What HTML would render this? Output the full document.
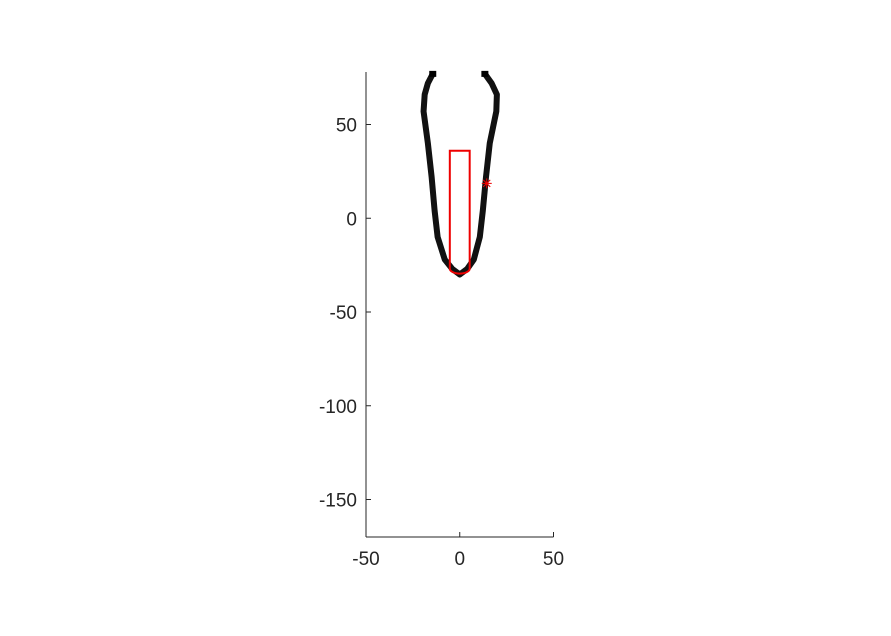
<!DOCTYPE html>
<html><head><meta charset="utf-8"><style>
body{margin:0;background:#fff;}
svg text{font-family:"Liberation Sans","DejaVu Sans",sans-serif;font-size:19px;fill:#262626;}
</style></head><body>
<svg id="chart" width="891" height="631">
<g id="axes"></g>
<g id="plot"></g>
</svg>
<script>
const xTicks=[-50,0,50];
const yTicks=[-150,-100,-50,0,50];
const leftY=[77,72,66,57,40,22,4,-10,-22,-27,-30];
const leftX=[-14.4,-17,-18.7,-19.3,-17,-15,-13.4,-11.8,-8,-4,0];
const rightY=[-30,-27,-22,-10,4,22,40,57,66,72,77];
const rightX=[0,4,7.5,10.7,12.3,14,16,19.5,19.8,17,13.4];
const rectX=[-5.3,5.3];
const rectTop=36;
const rectBottom=-29;
const starPt=[14.4,18.6];
const xMin=-50,xMax=50,yMin=-170,yMax=78;
const L=366,R=553.5,B=537,T=72;
const sx=v=>L+(v-xMin)/(xMax-xMin)*(R-L);
const sy=v=>B-(v-yMin)/(yMax-yMin)*(B-T);
const NS="http://www.w3.org/2000/svg";
function mk(p,t,a){const e=document.createElementNS(NS,t);for(const k in a)e.setAttribute(k,a[k]);p.appendChild(e);return e;}
const ax=document.getElementById('axes'),pl=document.getElementById('plot');
let e=mk(ax,'line',{x1:L,y1:B,x2:R,y2:B,stroke:'#262626','stroke-width':1});

e=mk(ax,'line',{x1:L,y1:B,x2:L,y2:T,stroke:'#262626','stroke-width':1});

xTicks.forEach(v=>{
 let t=mk(ax,'line',{x1:sx(v),y1:B,x2:sx(v),y2:B-5,stroke:'#262626'});
 
 let tx=mk(ax,'text',{x:sx(v),y:B+28,'text-anchor':'middle'});tx.textContent=v;
 
});
yTicks.forEach(v=>{
 let t=mk(ax,'line',{x1:L,y1:sy(v),x2:L+5,y2:sy(v),stroke:'#262626'});
 
 let tx=mk(ax,'text',{x:L-9,y:sy(v)+7,'text-anchor':'end'});tx.textContent=v;
 
});
const pts=[];leftX.forEach((x,i)=>pts.push([x,leftY[i]]));rightX.forEach((x,i)=>pts.push([x,rightY[i]]));
let c=mk(pl,'polyline',{points:pts.map(p=>sx(p[0])+','+sy(p[1])).join(' '),fill:'none',stroke:'#111','stroke-width':6,'stroke-linejoin':'round'});

[[leftX[0],leftY[0]],[rightX[rightX.length-1],rightY[rightY.length-1]]].forEach(p=>{
 let m=mk(pl,'rect',{x:sx(p[0])-3.5,y:sy(p[1])-3,width:7,height:6,fill:'#000'});
 
});
const x0=sx(rectX[0]),x1=sx(rectX[1]),yt=sy(rectTop),yb=sy(rectBottom),r=(x1-x0)/2;
let rp=mk(pl,'path',{d:`M${x0},${yb-r*0.4} L${x0},${yt} L${x1},${yt} L${x1},${yb-r*0.4} A${r},${r*0.5} 0 0 1 ${x0},${yb-r*0.4} Z`,fill:'none',stroke:'#e00','stroke-width':2});

const cx=sx(starPt[0]),cy=sy(starPt[1]);
let st=mk(pl,'path',{d:`M${cx-5},${cy}H${cx+5}M${cx},${cy-5}V${cy+5}M${cx-3.5},${cy-3.5}L${cx+3.5},${cy+3.5}M${cx-3.5},${cy+3.5}L${cx+3.5},${cy-3.5}`,stroke:'#e00','stroke-width':1});

</script>
</body></html>
